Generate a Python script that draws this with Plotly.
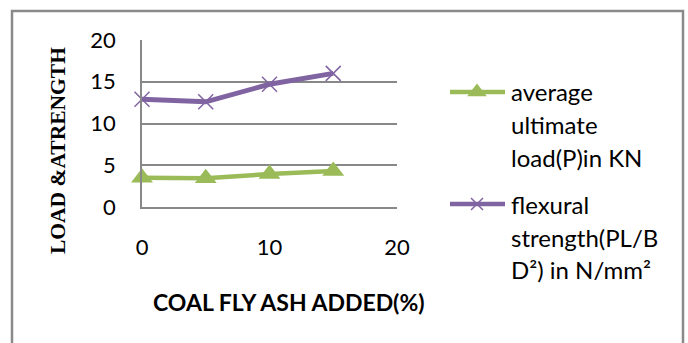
import plotly.graph_objects as go

W, H = 688, 343

fly_ash = [0, 5, 10, 15]
avg_load = [3.5, 3.43, 3.95, 4.3]
flex_strength = [12.9, 12.6, 14.7, 16.0]
series_names = [["average", "ultimate", "load(P)in KN"],
                 ["flexural", "strength(PL/B", "D²) in N/mm²"]]
x_title = "COAL FLY ASH ADDED(%)"
y_title = "LOAD &ATRENGTH"

GREEN = "#9BBB59"
PURPLE = "#8064A2"
GRID = "#888888"

def X(px):
    return px / W

def Y(py):
    return 1 - py / H

fig = go.Figure()
fig.add_trace(go.Scatter(x=fly_ash, y=avg_load, mode="lines+markers",
                         line=dict(color=GREEN, width=4.5),
                         marker=dict(symbol="triangle-up", size=19, color=GREEN),
                         cliponaxis=False, showlegend=False))
fig.add_trace(go.Scatter(x=fly_ash, y=flex_strength, mode="lines+markers",
                         line=dict(color=PURPLE, width=5),
                         marker=dict(symbol="x-thin", size=15,
                                     line=dict(color=PURPLE, width=1.5)),
                         cliponaxis=False, showlegend=False))

# legend samples (on a helper axis in pixel units)
leg_y = [92, 204]
for i, (col, sym) in enumerate([(GREEN, "triangle-up"), (PURPLE, "x-thin")]):
    fig.add_trace(go.Scatter(x=[450, 505], y=[leg_y[i], leg_y[i]], mode="lines",
                             line=dict(color=col, width=4.5), xaxis="x2", yaxis="y2",
                             showlegend=False, hoverinfo="skip"))
    mk = dict(symbol=sym, size=17 if i == 0 else 12, color=col)
    if i == 1:
        mk["line"] = dict(color=col, width=1.5)
    fig.add_trace(go.Scatter(x=[477], y=[leg_y[i]], mode="markers", marker=mk,
                             xaxis="x2", yaxis="y2", showlegend=False,
                             hoverinfo="skip", cliponaxis=False))

annotations = []
line_ys = [[92, 124, 157], [204, 237, 269]]
for names, ys in zip(series_names, line_ys):
    for t, yy in zip(names, ys):
        annotations.append(dict(text=t, x=X(509), y=Y(yy), xref="paper", yref="paper",
                                xanchor="left", yanchor="middle", showarrow=False,
                                font=dict(family="Lato", size=24, color="#000000")))
annotations.append(dict(text="<b>" + x_title + "</b>", x=X(289), y=Y(302),
                        xref="paper", yref="paper", xanchor="center", yanchor="middle",
                        showarrow=False,
                        font=dict(family="Lato", size=23, color="#000000")))
annotations.append(dict(text="<b>" + y_title + "</b>", x=X(58), y=Y(151),
                        xref="paper", yref="paper", xanchor="center", yanchor="middle",
                        textangle=-90, showarrow=False,
                        font=dict(family="Liberation Serif", size=21.5, color="#000000")))

fig.update_layout(
    template="none",
    width=W, height=H, autosize=False,
    margin=dict(l=0, r=0, t=0, b=0, pad=0, autoexpand=False),
    paper_bgcolor="white", plot_bgcolor="rgba(0,0,0,0)",
    xaxis=dict(domain=[X(142), X(397)], range=[0, 20], dtick=10, tick0=0,
               showgrid=False, zeroline=False, showline=True, linecolor=GRID,
               linewidth=1.5, ticks="", ticklabelstandoff=20, automargin=False,
               tickfont=dict(family="Lato", size=22, color="#000000")),
    yaxis=dict(domain=[Y(207), Y(40)], range=[0, 20], dtick=5, tick0=0,
               showgrid=True, gridcolor=GRID, gridwidth=1.5, zeroline=False,
               showline=True, linecolor=GRID, linewidth=1.5, ticks="",
               ticklabelstandoff=20, automargin=False,
               tickfont=dict(family="Lato", size=22, color="#000000")),
    xaxis2=dict(domain=[0, 1], range=[0, W], visible=False, fixedrange=True,
                automargin=False),
    yaxis2=dict(domain=[0, 1], range=[H, 0], visible=False, fixedrange=True,
                automargin=False),
    annotations=annotations,
    shapes=[dict(type="rect", xref="paper", yref="paper",
                 x0=X(12), x1=X(683), y0=Y(360), y1=Y(11),
                 line=dict(color="#8A8A8A", width=2.5), layer="above")],
)

fig.write_html("out.html", config={"displayModeBar": False},
               post_script="document.body.style.margin='0';document.body.style.overflow='hidden';")
